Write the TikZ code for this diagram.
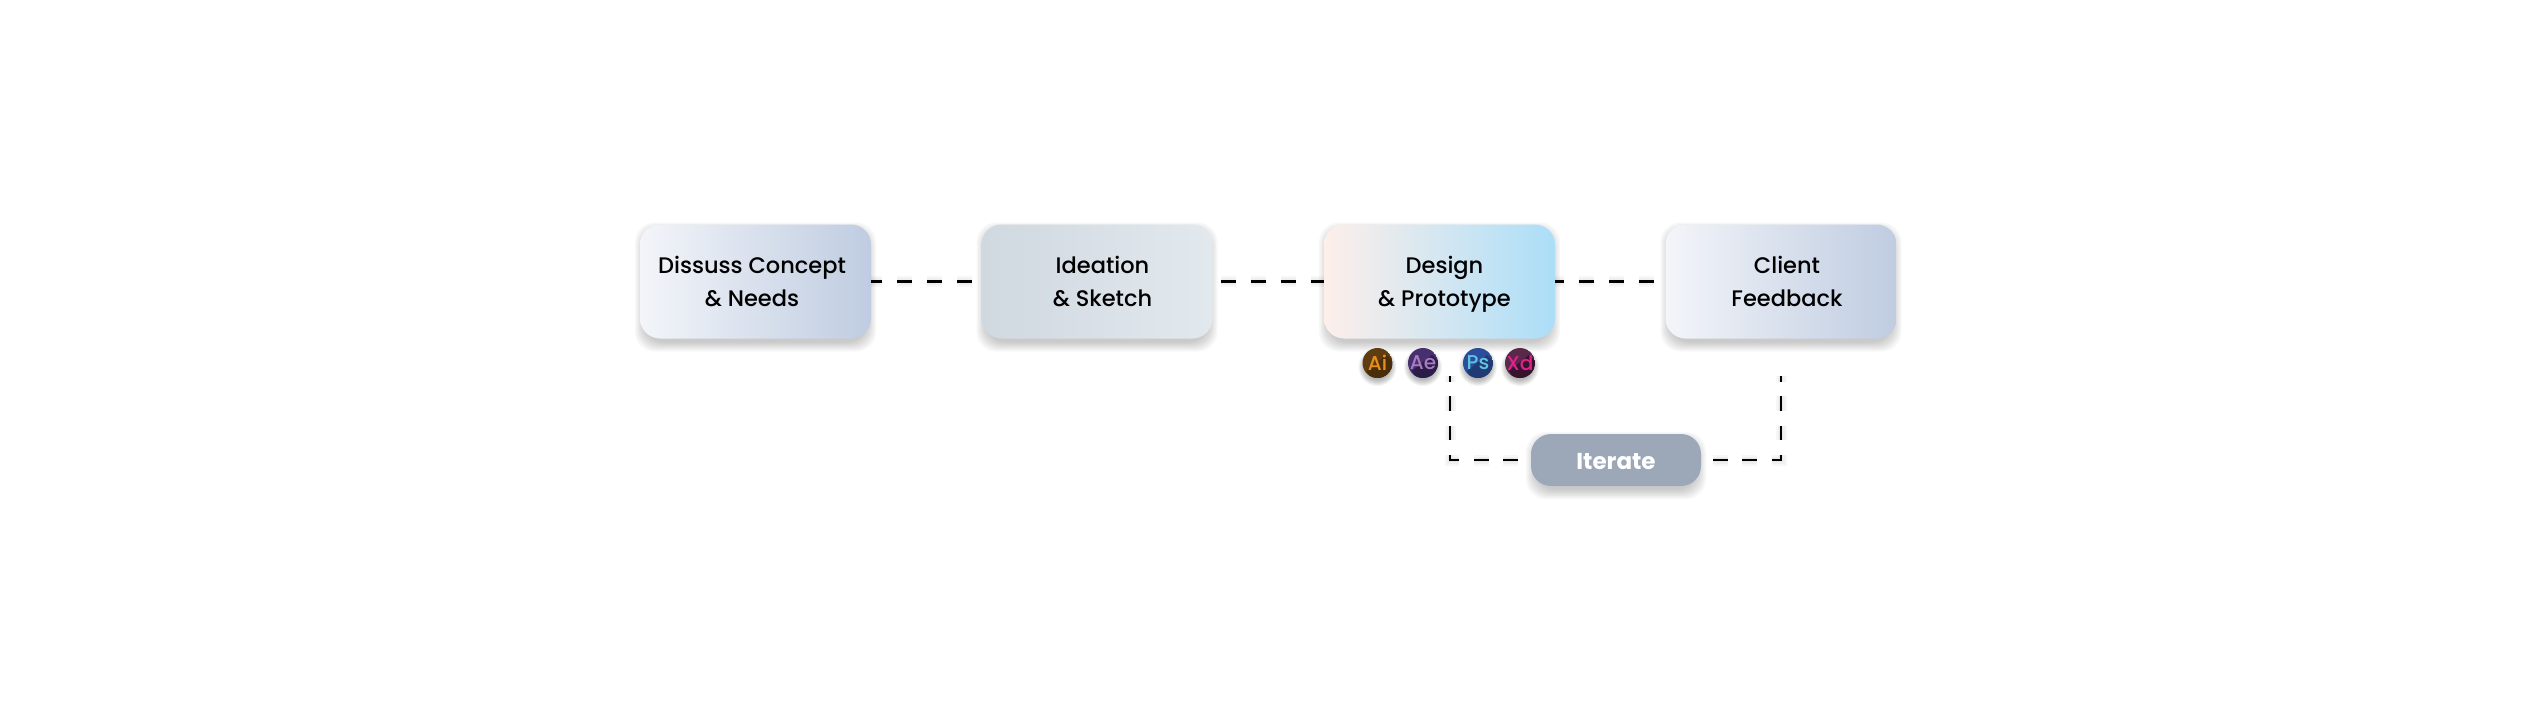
\documentclass[tikz,border=0pt]{standalone}
\usepackage{fontspec}
\setmainfont{Poppins}
\newfontfamily\popmed{Poppins Medium}
\newfontfamily\popbold{Poppins Bold}
\usetikzlibrary{calc}
\definecolor{aL}{HTML}{F3F5F9}\definecolor{aR}{HTML}{BFCCE1}
\definecolor{bL}{HTML}{D0D8E0}\definecolor{bR}{HTML}{E2E9EE}
\definecolor{cL}{HTML}{FDEFEA}\definecolor{cR}{HTML}{ABDEF8}
\definecolor{iter}{HTML}{9CA8B8}
\definecolor{aibg}{HTML}{5F3D10}\definecolor{aifg}{HTML}{E8901A}\definecolor{aish}{HTML}{4A2E0C}
\definecolor{aebg}{HTML}{46306F}\definecolor{aefg}{HTML}{A97BBE}\definecolor{aesh}{HTML}{2A1D4A}
\definecolor{psbg}{HTML}{2A4D9C}\definecolor{psfg}{HTML}{5FC4DE}\definecolor{pssh}{HTML}{223A74}
\definecolor{xdbg}{HTML}{5A2848}\definecolor{xdfg}{HTML}{E0208F}\definecolor{xdsh}{HTML}{35142C}
\tikzset{
  x=1pt,y=-1pt,
  card/.style={minimum width=231pt,minimum height=114pt,rounded corners=20pt,inner sep=0pt,align=center,
    font=\popmed\fontsize{22.5}{33}\selectfont,text=black},
  dashline/.style={line width=2.3pt,draw=black,dash pattern=on 15pt off 15pt},
  loopline/.style={line width=2.3pt,draw=black,dash pattern=on 14.6pt off 14.6pt},
  icon/.style={inner sep=0pt,font=\popmed\fontsize{20}{20}\selectfont},
}
\newcommand{\cardline}[2]{\hspace*{#1pt}\raisebox{-2pt}[\height][\depth]{\strut #2}}
\newcommand{\softshadow}[4]{%
  \foreach \g in {0,1.5,...,9}{%
    \fill[black,opacity=0.032,rounded corners=#4pt]
      ($(#1)+(-#2-5+\g,-#3-2+\g)$) rectangle ($(#1)+(#2+5-\g,#3+13-\g)$);
  }}
\newcommand{\softdot}[2]{%
  \foreach \g in {0,1,...,6}{%
    \fill[black,opacity=0.045] ($(#1)+(0,4)$) circle ({#2+5-\g});
  }}
\newcommand{\softline}[2]{%
  \foreach \w in {11,7,3.5}{%
    \begin{scope}[yshift=-7pt]
      \draw[black,opacity=0.032,line width=\w pt,#1] #2;
    \end{scope}
  }}
\newcommand{\makeicon}[6]{%
  \coordinate (#1c) at (#2,363);
  \softdot{#1c}{14}
  \begin{scope}
    \clip (#1c) circle (15);
    \fill[#4] (#1c) circle (15);
    \fill[#6] ($(#1c)+(9,-8)$) -- ++(24,24) -- ++(-30,14) -- ($(#1c)+(-11,8)$) -- cycle;
  \end{scope}
  \node[icon,text=#5] (#1) at (#1c) {#3};
}
\begin{document}
\begin{tikzpicture}
\useasboundingbox (0,0) rectangle (2537,709);
\fill[white] (0,0) rectangle (2537,709);
\coordinate (p1) at (755.5,281.5);
\coordinate (p2) at (1097,281.5);
\coordinate (p3) at (1439.5,281.5);
\coordinate (p4) at (1781,281.5);
\coordinate (p5) at (1616,460);
\softshadow{p1}{115.5}{57}{20}
\softshadow{p2}{115.5}{57}{20}
\softshadow{p3}{115.5}{57}{20}
\softshadow{p4}{115.5}{57}{20}
\softshadow{p5}{85}{26}{20}

\node[card,left color=aL,right color=aR] (discuss) at (p1) {\cardline{-7}{Dissuss Concept}\\\cardline{-7}{\& Needs}};
\node[card,left color=bL,right color=bR] (ideation) at (p2) {\cardline{11}{Ideation}\\\cardline{11}{\& Sketch}};
\node[card,left color=cL,right color=cR] (design) at (p3) {\cardline{10}{Design}\\\cardline{10}{\& Prototype}};
\node[card,left color=aL,right color=aR] (client) at (p4) {\cardline{12}{Client}\\\cardline{12}{Feedback}};
\node[minimum width=170pt,minimum height=52pt,rounded corners=20pt,fill=iter,text=white,inner sep=0pt,
  font=\popbold\fontsize{23}{26}\selectfont] (iterate) at (p5) {\raisebox{-2pt}[\height][\depth]{Iterate}};

\coordinate (lt) at (1450,376);
\coordinate (rt) at (1781,376);

\softline{dash pattern=on 15pt off 15pt,dash phase=4pt}{(discuss.east) -- (ideation.west)}
\softline{dash pattern=on 15pt off 15pt,shorten <=8pt}{(ideation.east) -- (design.west)}
\softline{dash pattern=on 15pt off 15pt,dash phase=6pt}{(design.east) -- (client.west)}
\softline{dash pattern=on 14.6pt off 14.6pt,shorten <=13pt}{(iterate.west) -| (lt)}
\softline{dash pattern=on 14.6pt off 14.6pt,shorten <=12pt}{(iterate.east) -| (rt)}

\draw[dashline,dash phase=4pt] (discuss.east) -- (ideation.west);
\draw[dashline,shorten <=8pt] (ideation.east) -- (design.west);
\draw[dashline,dash phase=6pt] (design.east) -- (client.west);
\draw[loopline,shorten <=13pt] (iterate.west) -| (lt);
\draw[loopline,shorten <=12pt] (iterate.east) -| (rt);

\makeicon{ai}{1377.5}{Ai}{aibg}{aifg}{aish}
\makeicon{ae}{1423}{Ae}{aebg}{aefg}{aesh}
\makeicon{ps}{1478}{Ps}{psbg}{psfg}{pssh}
\makeicon{xd}{1520}{Xd}{xdbg}{xdfg}{xdsh}
\end{tikzpicture}
\end{document}
